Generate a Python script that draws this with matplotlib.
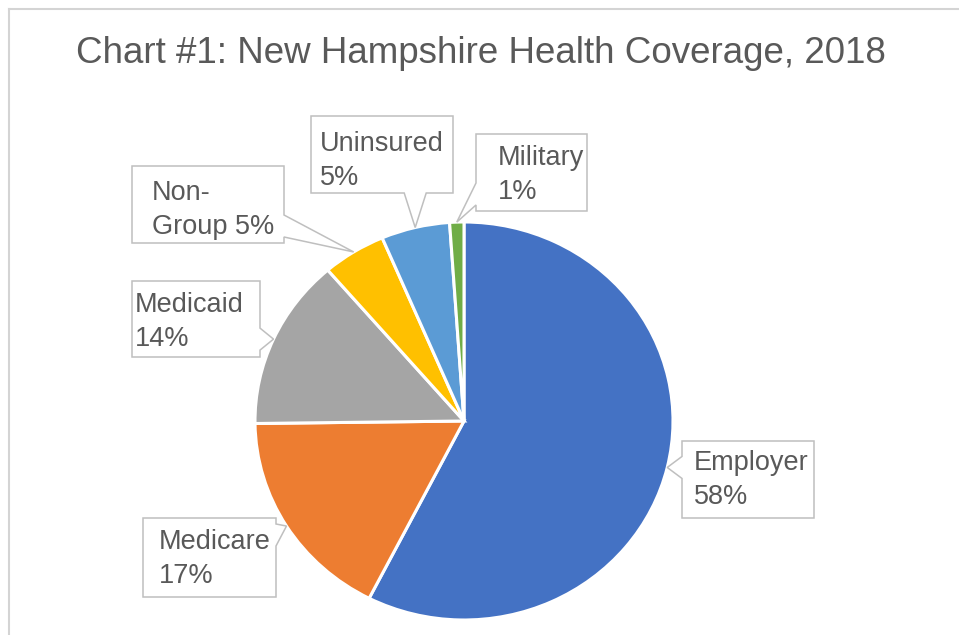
import matplotlib
matplotlib.use("Agg")
import matplotlib.pyplot as plt
import numpy as np
from matplotlib.patches import Polygon

plt.rcParams['font.family'] = ['Liberation Sans', 'DejaVu Sans']

W, H = 959, 635

# data (share of population, percent)
categories = ["Employer", "Medicare", "Medicaid", "Non-Group", "Uninsured", "Military"]
shares = [57.5, 17.3, 13.9, 4.9, 5.3, 1.1]
label_texts = ["Employer\n58%", "Medicare\n17%", "Medicaid\n14%",
               "Non-\nGroup 5%", "Uninsured\n5%", "Military\n1%"]
colors = ["#4472C4", "#ED7D31", "#A5A5A5", "#FFC000", "#5B9BD5", "#70AD47"]
title = "Chart #1: New Hampshire Health Coverage, 2018"

# callout boxes, pixels from the top-left corner (x0, y0, x1, y1)
boxes = [(682, 441, 814, 518), (143, 518, 276, 597), (132, 281, 260, 357),
         (132, 166, 284, 243), (311, 116, 453, 193), (476, 134, 587, 211)]
text_pos = [(694, 450), (159, 529), (135, 292), (152, 180), (320, 131), (498, 145)]

text_col = "#595959"
box_col = "#BFBFBF"


def callout_points(box, tip, bw=22, margin=6):
    x0, y0, x1, y1 = box
    tx, ty = tip
    dx_out = max(x0 - tx, tx - x1, 0)
    dy_out = max(y0 - ty, ty - y1, 0)
    if dx_out >= dy_out:
        c = np.clip(ty, y0 + margin + bw / 2, y1 - margin - bw / 2)
        if tx > x1:
            return [(x0, y0), (x1, y0), (x1, c - bw / 2), (tx, ty),
                    (x1, c + bw / 2), (x1, y1), (x0, y1)]
        return [(x0, y0), (x1, y0), (x1, y1), (x0, y1),
                (x0, c + bw / 2), (tx, ty), (x0, c - bw / 2)]
    c = np.clip(tx, x0 + margin + bw / 2, x1 - margin - bw / 2)
    if ty > y1:
        return [(x0, y0), (x1, y0), (x1, y1), (c + bw / 2, y1), (tx, ty),
                (c - bw / 2, y1), (x0, y1)]
    return [(x0, y0), (c - bw / 2, y0), (tx, ty), (c + bw / 2, y0),
            (x1, y0), (x1, y1), (x0, y1)]


fig = plt.figure(figsize=(W / 100, H / 100), dpi=100)

# pie is slightly wider than tall in the original
cx, cy, rx, ry = 464, 421, 209, 199
pie_ax = fig.add_axes([(cx - rx) / W, (H - cy - ry) / H, 2 * rx / W, 2 * ry / H])
wedges, _ = pie_ax.pie(shares, colors=colors, startangle=90, counterclock=False,
                       wedgeprops=dict(edgecolor="white", linewidth=2.2))
pie_ax.set_aspect("auto")
pie_ax.set_xlim(-1, 1)
pie_ax.set_ylim(-1, 1)

overlay = fig.add_axes([0, 0, 1, 1])
overlay.set_xlim(0, W)
overlay.set_ylim(H, 0)
overlay.axis("off")

# chart frame
overlay.plot([9, 9], [H, 9], color="#D4D4D4", lw=1.5)
overlay.plot([9, W], [9, 9], color="#D4D4D4", lw=1.5)

overlay.text(481, 63, title, ha="center", va="baseline", fontsize=26.5, color=text_col)

for w, box, txt, pos in zip(wedges, boxes, label_texts, text_pos):
    mid = np.deg2rad((w.theta1 + w.theta2) / 2)
    px, py = pie_ax.transData.transform((np.cos(mid), np.sin(mid)))
    tip = (px, H - py)
    overlay.add_patch(Polygon(callout_points(box, tip), closed=True, fc="white",
                              ec=box_col, lw=1.1, zorder=3))
    overlay.text(pos[0], pos[1], txt, ha="left", va="top", fontsize=19.5,
                 color=text_col, linespacing=1.42, zorder=4)

fig.savefig("out.png", dpi=100)
